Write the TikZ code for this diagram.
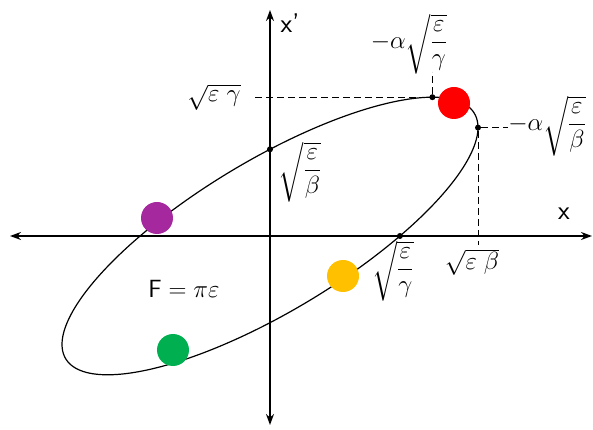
\documentclass[tikz,border=0pt]{standalone}
\usepackage{amsmath}
\usetikzlibrary{arrows.meta}
\definecolor{cred}{RGB}{255,0,0}
\definecolor{cpurple}{RGB}{166,40,158}
\definecolor{cgreen}{RGB}{0,176,80}
\definecolor{cyellow}{RGB}{255,192,0}
\begin{document}
\begin{tikzpicture}[x=1pt,y=1pt,
  axis/.style={line width=1.4pt,-{Stealth[length=11pt,width=8pt]}},
  guide/.style={line width=1pt,dash pattern=on 7pt off 4pt},
  pt/.style={circle,fill=black,inner sep=0pt,minimum size=6pt},
  ball/.style={circle,inner sep=0pt,minimum size=32pt},
  lab/.style={inner sep=0pt,font=\fontsize{25}{30}\selectfont},
  slab/.style={inner sep=0pt,font=\fontsize{27}{32}\selectfont\sffamily}]
\useasboundingbox (-270,-194) rectangle (323,236);
% axes
\coordinate (O) at (0,0);
\coordinate (xl) at (-260,0);
\coordinate (xr) at (322,0);
\coordinate (yt) at (0,226);
\coordinate (yb) at (0,-189);
\draw[axis] (O) -- (xr);
\draw[axis] (O) -- (xl);
\draw[axis] (O) -- (yt);
\draw[axis] (O) -- (yb);
% ellipse
\draw[line width=1.2pt] plot[domain=0:360,samples=200,smooth cycle] ({208*cos(\x)},{108.4*cos(\x)-86.7*sin(\x)});
% marked points
\node[pt] (top) at (162.4,138.8) {};
\node[pt] (rgt) at (208,108.4) {};
\node[pt] (xpi) at (0,86.7) {};
\node[pt] (xi) at (129.9,0) {};
% guides
\coordinate (gL) at (-15,138.8);
\coordinate (gU) at (162.4,164);
\coordinate (gR) at (238,108.4);
\coordinate (gD) at (208,-9);
\draw[guide] (gL) -- (top);
\draw[guide] (top) -- (gU);
\draw[guide] (rgt) -- (gR);
\draw[guide] (rgt) -- (gD);
% labels
\node[slab] (lxp) at (20,213) {x'};
\node[slab] (lx) at (294,22) {x};
\node[lab] (l1) at (139,192) {$-\alpha\sqrt{\dfrac{\varepsilon}{\gamma}}$};
\node[lab] (l2) at (-56,139) {$\sqrt{\varepsilon\;\gamma}$};
\node[lab] (l3) at (277,110) {$-\alpha\sqrt{\dfrac{\varepsilon}{\beta}}$};
\node[lab] (l4) at (30,64) {$\sqrt{\dfrac{\varepsilon}{\beta}}$};
\node[lab] (l5) at (123,-35) {$\sqrt{\dfrac{\varepsilon}{\gamma}}$};
\node[lab] (l6) at (202,-26) {$\sqrt{\varepsilon\;\beta}$};
\node[lab,font=\fontsize{27}{32}\selectfont] (l7) at (-86,-53) {$\mathsf{F}=\pi\varepsilon$};
% coloured balls
\node[ball,fill=cred] (bred) at (184,133) {};
\node[ball,fill=cpurple] (bpur) at (-113,18) {};
\node[ball,fill=cgreen] (bgrn) at (-97,-114) {};
\node[ball,fill=cyellow] (byel) at (73,-40) {};
\end{tikzpicture}
\end{document}
